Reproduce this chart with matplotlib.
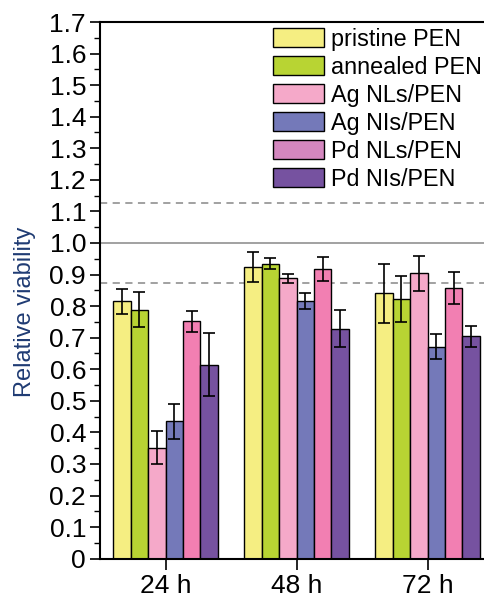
import matplotlib.pyplot as plt
import numpy as np
from matplotlib.patches import Patch

plt.rcParams['font.family'] = ['Liberation Sans', 'DejaVu Sans']

#data
times = ['24 h', '48 h', '72 h']
labels = ['pristine PEN', 'annealed PEN', 'Ag NLs/PEN', 'Ag NIs/PEN', 'Pd NLs/PEN', 'Pd NIs/PEN']
colors = ['#F5EE82', '#B8D433', '#F5A9C9', '#7479B9', '#F27FB2', '#7652A0']
legend_colors = ['#F5EE82', '#B8D433', '#F5A9C9', '#7479B9', '#D487BF', '#7652A0']

pristine = [0.815, 0.923, 0.841]
annealed = [0.789, 0.934, 0.822]
ag_nls = [0.352, 0.888, 0.904]
ag_nis = [0.435, 0.816, 0.671]
pd_nls = [0.752, 0.918, 0.857]
pd_nis = [0.615, 0.729, 0.705]

pristine_err = [0.040, 0.048, 0.094]
annealed_err = [0.055, 0.017, 0.073]
ag_nls_err = [0.053, 0.014, 0.055]
ag_nis_err = [0.055, 0.026, 0.040]
pd_nls_err = [0.033, 0.039, 0.050]
pd_nis_err = [0.100, 0.060, 0.033]

control = 1.0
band_hi = 1.127
band_lo = 0.872

values = [pristine, annealed, ag_nls, ag_nis, pd_nls, pd_nis]
errors = [pristine_err, annealed_err, ag_nls_err, ag_nis_err, pd_nls_err, pd_nis_err]

fig = plt.figure(figsize=(4.84, 5.94), dpi=100)
ax = fig.add_axes([100/484, 1-558.7/594, 393/484, (558.7-22)/594])

x = np.arange(1, len(times)+1)
w = 0.1333

#reference lines behind the bars
ax.axhline(control, color='#9a9a9a', lw=1.3, zorder=0)
ax.axhline(band_hi, color='#9a9a9a', lw=1.3, ls=(0, (4, 3)), zorder=0)
ax.axhline(band_lo, color='#9a9a9a', lw=1.3, ls=(0, (4, 3)), zorder=0)

for i in range(len(labels)):
    ax.bar(x + (i-2.5)*w, values[i], w, color=colors[i], edgecolor='black', lw=1.0, zorder=2,
           yerr=errors[i], error_kw=dict(ecolor='black', elinewidth=1.2, capsize=4, capthick=1.2, zorder=3))

ax.set_xlim(0.5, 3.5)
ax.set_ylim(0, 1.7)
ax.set_xticks(x)
ax.set_xticklabels(times, fontsize=19)
yt = np.round(np.arange(0, 1.71, 0.1), 1)
ax.set_yticks(yt)
ax.set_yticklabels(['0' if v == 0 else '%.1f' % v for v in yt], fontsize=19)
ax.set_yticks(np.arange(0.05, 1.7, 0.1), minor=True)
ax.tick_params(axis='y', which='major', direction='out', length=7, width=1.2, pad=3)
ax.tick_params(axis='y', which='minor', direction='out', length=4, width=1.0)
ax.tick_params(axis='x', which='major', direction='out', length=8, width=1.2, pad=3)
ax.spines['right'].set_visible(False)
for s in ['left', 'bottom', 'top']:
    ax.spines[s].set_linewidth(1.5)

ax.set_ylabel('Relative viability', fontsize=17, color='#1F3B73')
ax.yaxis.set_label_coords(-0.163, 0.46)

handles = [Patch(facecolor=legend_colors[i], edgecolor='black', lw=1.0) for i in range(len(labels))]
ax.legend(handles, labels, loc='upper left', bbox_to_anchor=(273/484, 1-28/594), bbox_transform=fig.transFigure,
          frameon=False, fontsize=16.8, borderpad=0, borderaxespad=0, labelspacing=0.21,
          handlelength=2.2, handleheight=0.88, handletextpad=0.3)

fig.savefig('out.png', dpi=100)
